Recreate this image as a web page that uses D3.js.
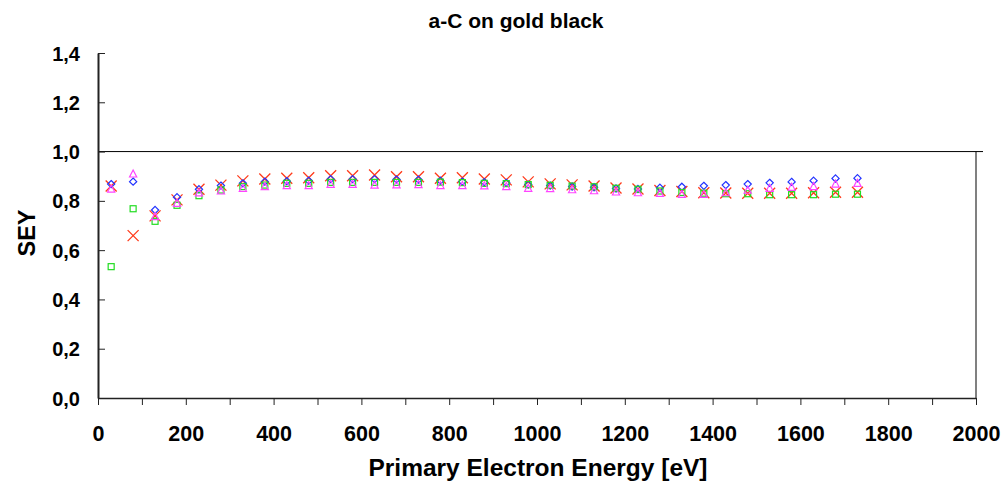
<!DOCTYPE html>
<html>
<head>
<meta charset="utf-8">
<script src="https://cdn.jsdelivr.net/npm/d3@7"></script>
<style>
  body { margin: 0; background: #fff; }
  text { font-family: "Liberation Sans", Arial, sans-serif; font-weight: bold; fill: #000; }
</style>
</head>
<body>
<div class="chart"></div>
<script>
// Data
let energies = [30, 80, 130, 180, 230, 280, 330, 380, 430, 480, 530, 580, 630, 680, 730, 780, 830,
    880, 930, 980, 1030, 1080, 1130, 1180, 1230, 1280, 1330, 1380, 1430, 1480, 1530, 1580, 1630, 1680, 1730];

let seyCross = [0.860, 0.659, 0.739, 0.804, 0.847, 0.864, 0.881, 0.889, 0.892, 0.894, 0.902, 0.902,
    0.905, 0.898, 0.898, 0.892, 0.894, 0.889, 0.885, 0.877, 0.869, 0.865, 0.860, 0.852, 0.848,
    0.842, 0.838, 0.833, 0.832, 0.831, 0.831, 0.831, 0.833, 0.835, 0.835];

let seyDiamond = [0.868, 0.878, 0.763, 0.815, 0.847, 0.862, 0.871, 0.878, 0.880, 0.882, 0.888, 0.888,
    0.888, 0.887, 0.886, 0.882, 0.878, 0.876, 0.873, 0.866, 0.862, 0.858, 0.855, 0.850, 0.848,
    0.853, 0.857, 0.861, 0.864, 0.868, 0.873, 0.877, 0.882, 0.891, 0.892];

let seyTriangle = [0.848, 0.909, 0.736, 0.790, 0.832, 0.840, 0.851, 0.858, 0.862, 0.862, 0.867, 0.867,
    0.864, 0.865, 0.866, 0.862, 0.862, 0.861, 0.858, 0.851, 0.850, 0.845, 0.841, 0.836, 0.833,
    0.830, 0.826, 0.826, 0.833, 0.843, 0.851, 0.855, 0.858, 0.868, 0.871];

let seySquare = [0.533, 0.768, 0.717, 0.782, 0.821, 0.844, 0.858, 0.864, 0.871, 0.871, 0.875, 0.875,
    0.875, 0.875, 0.875, 0.876, 0.874, 0.871, 0.870, 0.866, 0.863, 0.860, 0.857, 0.851, 0.847,
    0.840, 0.834, 0.831, 0.829, 0.829, 0.825, 0.825, 0.825, 0.827, 0.827];

let xTicks = [0, 200, 400, 600, 800, 1000, 1200, 1400, 1600, 1800, 2000];
let yTicks = [0, 0.2, 0.4, 0.6, 0.8, 1.0, 1.2, 1.4];

// Layout
let svgWidth = 1003;
let svgHeight = 482;
let margin = { top: 53, right: 27, bottom: 84, left: 98 };
let width = svgWidth - margin.left - margin.right;
let height = svgHeight - margin.top - margin.bottom;

let svg = d3.select(".chart")
    .append("svg")
    .attr("width", svgWidth)
    .attr("height", svgHeight);

let chartGroup = svg.append("g")
    .attr("transform", `translate(${margin.left}, ${margin.top})`);

let xScale = d3.scaleLinear().domain([0, 2000]).range([0, width]);
let yScale = d3.scaleLinear().domain([0, 1.4]).range([height, 0]);

// Right frame line below the reference line
chartGroup.append("line")
    .attr("x1", width).attr("x2", width).attr("y1", yScale(1)).attr("y2", height)
    .attr("stroke", "#808080").attr("stroke-width", 2);

// Reference line at SEY = 1
chartGroup.append("line")
    .attr("x1", 0).attr("x2", width + 7)
    .attr("y1", yScale(1)).attr("y2", yScale(1))
    .attr("stroke", "#000").attr("stroke-width", 1);

// X axis: minor ticks every 100, labels every 200
let xAxis = chartGroup.append("g")
    .attr("transform", `translate(0, ${height})`)
    .call(d3.axisBottom(xScale).tickValues(d3.range(0, 2001, 100)).tickSize(7).tickSizeOuter(0)
        .tickFormat(d => xTicks.includes(d) ? d : ""));
xAxis.select(".domain").attr("stroke", "#222").attr("stroke-width", 1.5);
xAxis.selectAll(".tick line").attr("stroke", "#222");
xAxis.selectAll(".tick text").attr("font-size", 21.5).attr("y", 0).attr("dy", null)
    .attr("transform", "translate(0, 43)");

// Y axis: ticks pointing inward
let yAxis = chartGroup.append("g")
    .call(d3.axisLeft(yScale).tickValues(yTicks).tickSize(-7).tickSizeOuter(0)
        .tickFormat(d => d3.format(".1f")(d).replace(".", ",")));
yAxis.select(".domain").attr("stroke", "#222").attr("stroke-width", 2);
yAxis.selectAll(".tick line").attr("stroke", "#222");
yAxis.selectAll(".tick text").attr("font-size", 20).attr("x", -18).attr("dy", "0.35em");

// Markers
let crossGroup = chartGroup.append("g");
crossGroup.selectAll("path")
    .data(energies)
    .enter()
    .append("path")
    .attr("transform", (d, i) => `translate(${xScale(d)}, ${yScale(seyCross[i])})`)
    .attr("d", "M-5.5,-5.5L5.5,5.5M-5.5,5.5L5.5,-5.5")
    .attr("stroke", "#ff3a1a")
    .attr("stroke-width", 1.3)
    .attr("fill", "none");

let diamondGroup = chartGroup.append("g");
diamondGroup.selectAll("path")
    .data(energies)
    .enter()
    .append("path")
    .attr("transform", (d, i) => `translate(${xScale(d)}, ${yScale(seyDiamond[i])})`)
    .attr("d", "M0,-3.6L3.6,0L0,3.6L-3.6,0Z")
    .attr("stroke", "#2233ff")
    .attr("stroke-width", 1.2)
    .attr("fill", "none");

let squareGroup = chartGroup.append("g");
squareGroup.selectAll("rect")
    .data(energies)
    .enter()
    .append("rect")
    .attr("x", d => xScale(d) - 3)
    .attr("y", (d, i) => yScale(seySquare[i]) - 3)
    .attr("width", 6)
    .attr("height", 6)
    .attr("stroke", "#22dd22")
    .attr("stroke-width", 1.2)
    .attr("fill", "none");

let triangleGroup = chartGroup.append("g");
triangleGroup.selectAll("path")
    .data(energies)
    .enter()
    .append("path")
    .attr("transform", (d, i) => `translate(${xScale(d)}, ${yScale(seyTriangle[i])})`)
    .attr("d", "M0,-4L3.6,3L-3.6,3Z")
    .attr("stroke", "#ff44ff")
    .attr("stroke-width", 1.2)
    .attr("fill", "none");

// Titles
svg.append("text")
    .attr("x", 516)
    .attr("y", 28)
    .attr("text-anchor", "middle")
    .attr("font-size", 21)
    .text("a-C on gold black");

svg.append("text")
    .attr("transform", "translate(35, 233) rotate(-90)")
    .attr("text-anchor", "middle")
    .attr("font-size", 23.5)
    .text("SEY");

svg.append("text")
    .attr("x", 538)
    .attr("y", 476)
    .attr("text-anchor", "middle")
    .attr("font-size", 24.5)
    .text("Primary Electron Energy [eV]");
</script>
</body>
</html>
